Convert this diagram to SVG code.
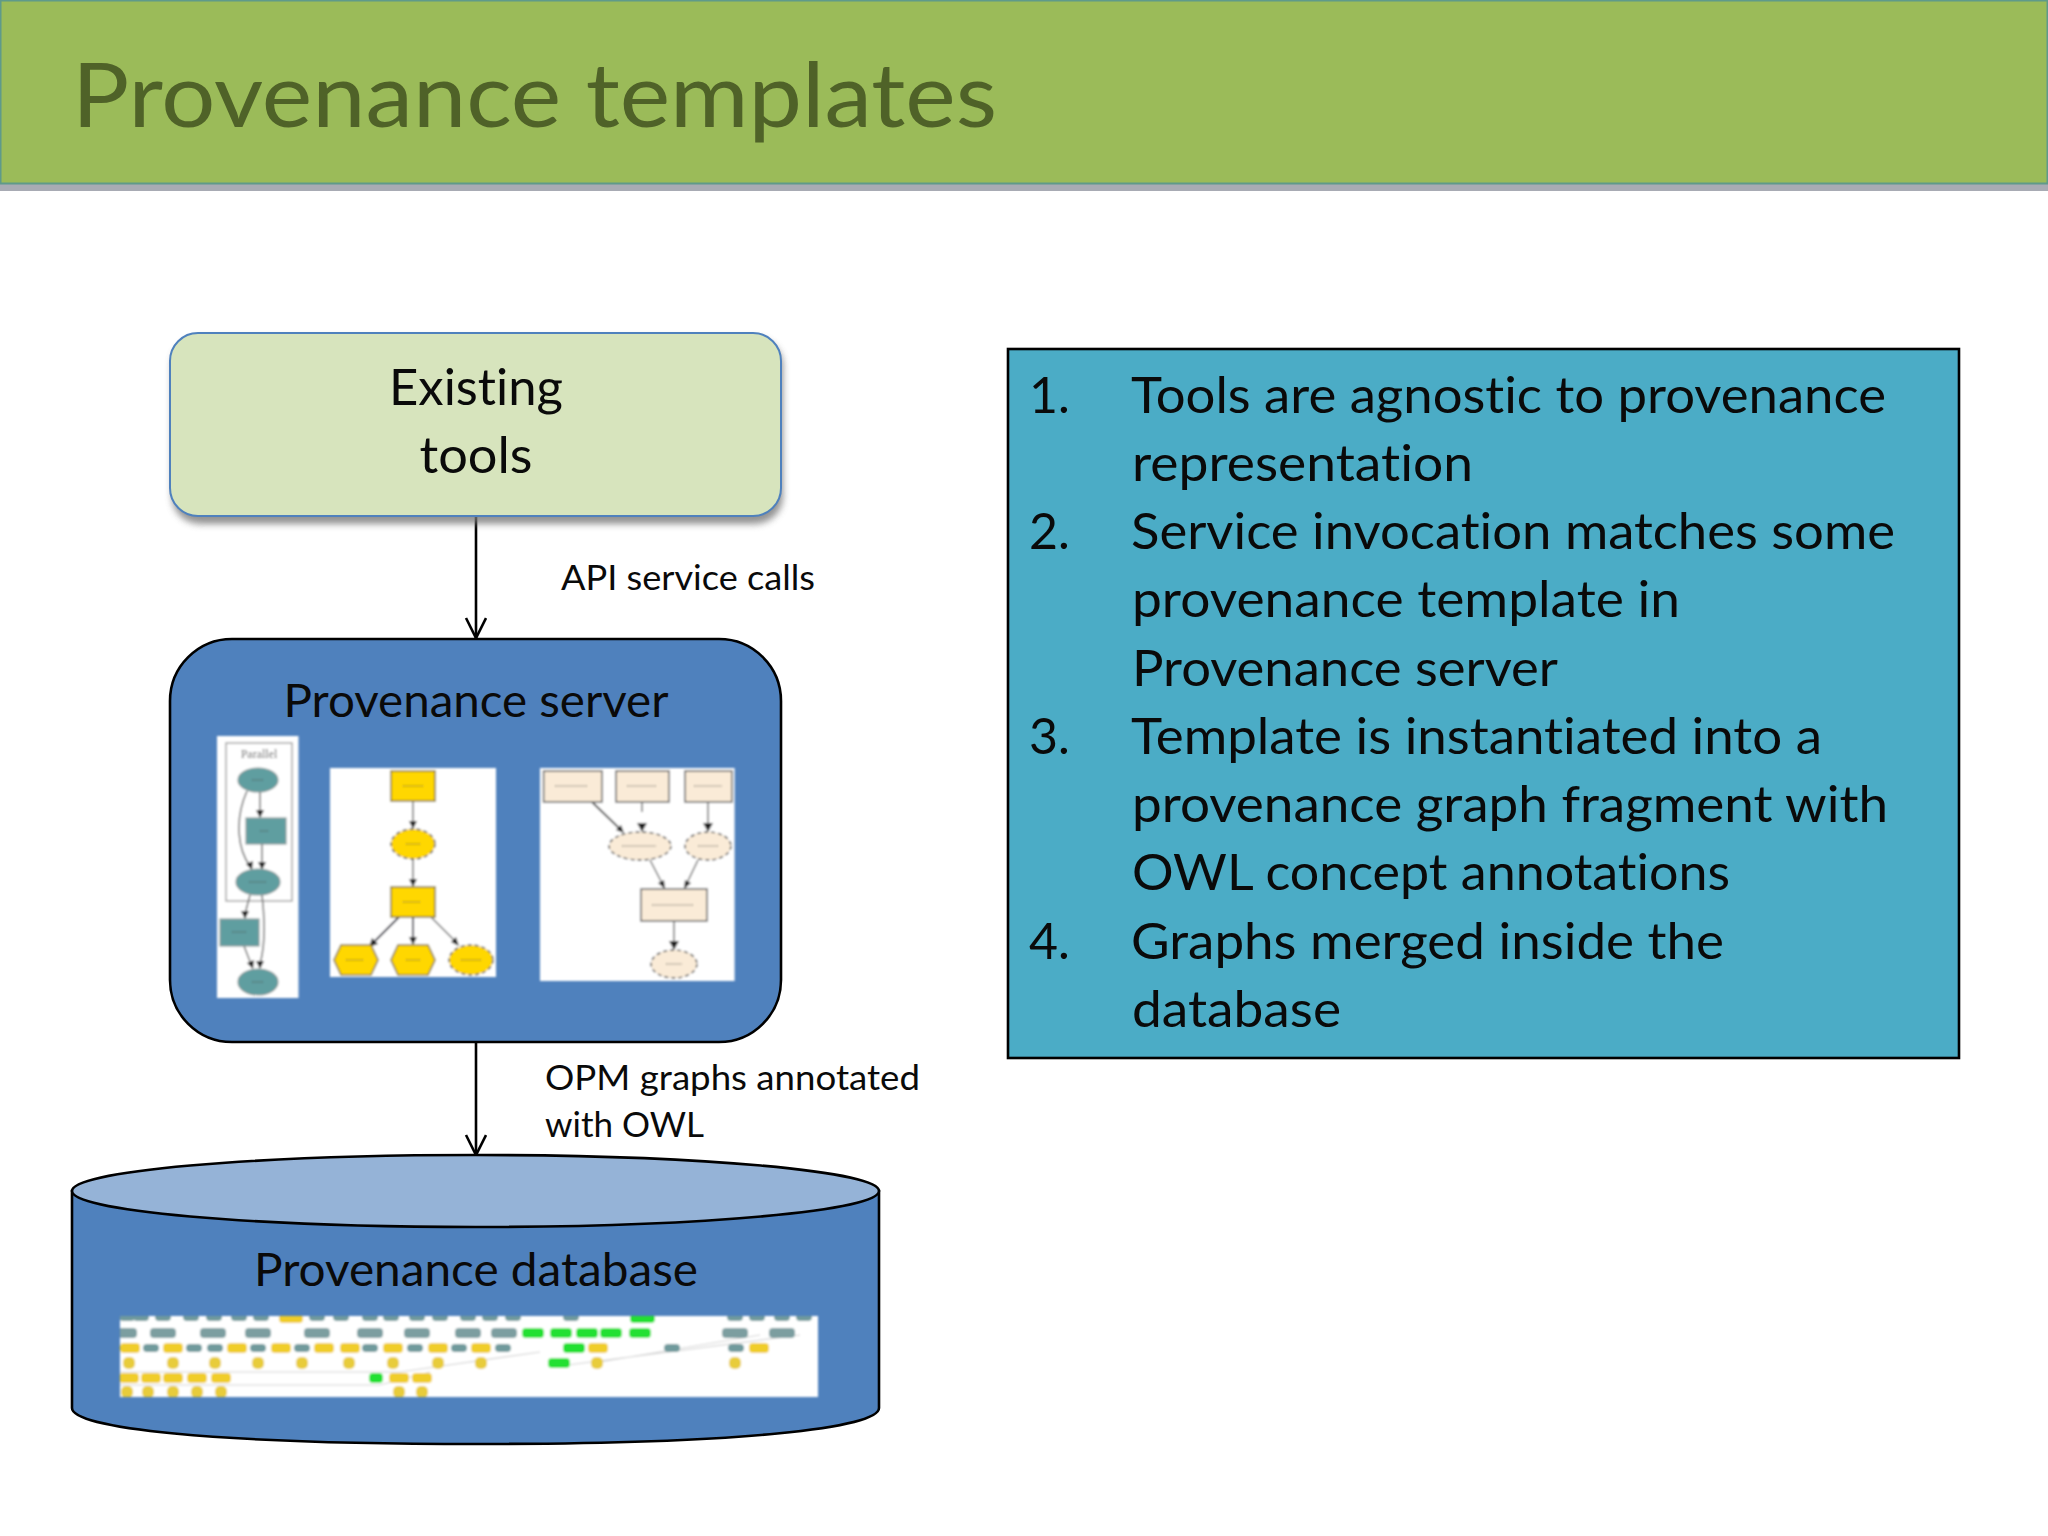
<svg xmlns="http://www.w3.org/2000/svg" width="2048" height="1536" viewBox="0 0 2048 1536">
<style>
text{font-family:"Lato","Carlito","Liberation Sans",sans-serif;fill:#0a0a0a;font-variant-ligatures:none}
.b{font-size:50px}
.l{font-size:35px}
.c{text-anchor:middle}
.ln{fill:none;stroke:#000;stroke-width:2.6}
.e{fill:none;stroke:#777;stroke-width:1.6}
.t{fill:#5F9EA0;stroke:#8a9a9a;stroke-width:1.2}
.g{fill:#FFD700;stroke:#8a7a30;stroke-width:1.6}
.a{fill:#FAEBD7;stroke:#777;stroke-width:1.8}
.ad{stroke:#444;stroke-dasharray:4 3;stroke-width:1.4}
.h{fill:#222}
.m{stroke:#444;stroke-width:1.2;stroke-dasharray:2 1;fill:none;opacity:.7}
.im{fill:#fff}
</style>
<defs>
<marker id="op" markerWidth="28" markerHeight="28" refX="21" refY="11" orient="auto" markerUnits="userSpaceOnUse"><path d="M1 1L21 11L1 21" fill="none" stroke="#000" stroke-width="2.6"/></marker>
<filter id="sh" x="-5%" y="-5%" width="110%" height="115%"><feGaussianBlur stdDeviation="3.5"/></filter>
<filter id="bl" x="-5%" y="-5%" width="110%" height="110%"><feGaussianBlur stdDeviation="0.8"/></filter>
<filter id="bl2" x="-5%" y="-5%" width="110%" height="110%"><feGaussianBlur stdDeviation="1.3"/></filter>
<rect id="dg" x="-8" y="-4" width="16" height="8" rx="4" fill="#6f9a9c"/>
<rect id="dw" x="-13" y="-5" width="26" height="10" rx="4" fill="#7c9ea0"/>
<rect id="dy" x="-10" y="-5" width="20" height="10" rx="4" fill="#f0cd2c"/>
<rect id="dn" x="-11" y="-5" width="22" height="10" rx="4" fill="#22e030"/>
<rect id="ds" x="-6" y="-6" width="12" height="12" rx="5" fill="#e8cc3a"/>
<clipPath id="dbc"><rect x="120" y="1316" width="698" height="81"/></clipPath>
</defs>

<g id="header">
<rect x="0" y="184" width="2048" height="7" fill="#a8abb4"/>
<rect x="0.5" y="0.5" width="2047" height="183" fill="#9BBB59" stroke="#5f9a8a" stroke-width="2"/>
<text x="72" y="127" style="font-size:90px;fill:#4F6228" textLength="925" lengthAdjust="spacingAndGlyphs">Provenance templates</text>
</g>

<g id="connectors">
<line class="ln" x1="476" y1="516" x2="476" y2="638" marker-end="url(#op)"/>
<line class="ln" x1="476" y1="1042" x2="476" y2="1155" marker-end="url(#op)"/>
<text class="l" x="561" y="590" textLength="254" lengthAdjust="spacingAndGlyphs">API service calls</text>
<text class="l" x="545" y="1090" textLength="375" lengthAdjust="spacingAndGlyphs">OPM graphs annotated</text>
<text class="l" x="545" y="1137" textLength="159" lengthAdjust="spacingAndGlyphs">with OWL</text>
</g>

<g id="existing-tools">
<rect x="172" y="338" width="611" height="186" rx="28" fill="#777" opacity="0.8" filter="url(#sh)"/>
<rect x="170" y="333" width="611" height="183" rx="28" fill="#D7E4BD" stroke="#4F81BD" stroke-width="2"/>
<text class="b c" x="476" y="405" textLength="174" lengthAdjust="spacingAndGlyphs">Existing</text>
<text class="b c" x="476" y="473" textLength="113" lengthAdjust="spacingAndGlyphs">tools</text>
</g>

<g id="provenance-server">
<rect x="170" y="639" width="611" height="403" rx="62" fill="#4F81BD" stroke="#000" stroke-width="2.6"/>
<text class="c" x="476" y="717" textLength="385" lengthAdjust="spacingAndGlyphs" style="font-size:46px">Provenance server</text>
<g id="template-a" filter="url(#bl)">
<rect class="im" x="217" y="736" width="81.500" height="262"/>
<rect x="226" y="743" width="66" height="158" fill="none" stroke="#aaa" stroke-width="1.600"/>
<text class="c" x="259" y="758" style="font-size:12px;fill:#666;font-family:'Liberation Serif',serif">Parallel</text>
<path class="e" d="M247 791C234 820 238 850 250 866M260 792V812M262 844V864M250 895L245 914M262 895C266 930 264 950 260 964M244 946L251 964"/>
<path class="h" d="M260 818l-4 -8h8zM262 870l-4 -8h8zM252 870l-6 -6 7 -3zM245 919l-4 -8h8zM260 969l-4 -8h8zM253 969l-6 -6 7 -3z"/>
<ellipse class="t" cx="258" cy="780" rx="20" ry="12"/>
<rect class="t" x="246" y="818" width="40" height="26"/>
<ellipse class="t" cx="258" cy="882" rx="22" ry="13"/>
<rect class="t" x="220" y="919" width="39" height="27"/>
<ellipse class="t" cx="258" cy="982" rx="20" ry="13"/>
<path class="m" d="M252 780h12M260 831h8M249 882h18M232 932h14M252 982h12"/>
</g>
<g id="template-b" filter="url(#bl)">
<rect class="im" x="330" y="768" width="166" height="209"/>
<path class="e" d="M413 801V823M413 859V881M431 917L455 941"/>
<path d="M399 917L372 944M413 917V940" fill="none" stroke="#334" stroke-width="1.800"/>
<path class="h" d="M413 829l-4 -8h8zM413 887l-4 -8h8zM369 947l3 -9 6 6zM413 945l-4 -8h8zM459 946l-8 -4 5 -5z"/>
<rect class="g" x="391" y="771" width="44" height="30"/>
<ellipse class="g ad" cx="413" cy="844" rx="22" ry="15"/>
<rect class="g" x="391" y="887" width="44" height="30"/>
<path class="g" d="M341 945H371L378 960L371 975H341L334 960Z"/>
<path class="g" d="M398 945H428L435 960L428 975H398L391 960Z"/>
<ellipse class="g ad" cx="471" cy="960" rx="22" ry="15"/>
<path class="m" d="M403 786h20M406 844h14M403 902h18M346 960h18M406 960h14M461 960h20"/>
</g>
<g id="template-c" filter="url(#bl)">
<rect class="im" x="540" y="768" width="194.600" height="213"/>
<path d="M592 802L620 829" fill="none" stroke="#444" stroke-width="1.800"/>
<path class="e" d="M642 802V812M708 802V826M650 860L663 885M698 860L686 885M674 921V944"/>
<path class="h" d="M624 833l-8 -3 5 -5zM642 832l-5 -9h10zM708 832l-5 -9h10zM665 889l-7 -6 6 -3zM684 889l1 -9 6 3zM674 950l-5 -9h10z"/>
<rect class="a" x="543.600" y="771" width="58.400" height="31"/>
<rect class="a" x="616" y="771" width="53" height="31"/>
<rect class="a" x="685" y="771" width="47" height="31"/>
<ellipse class="a ad" cx="640" cy="846" rx="31" ry="14"/>
<ellipse class="a ad" cx="708" cy="846" rx="23" ry="14"/>
<rect class="a" x="641" y="889" width="66" height="32"/>
<ellipse class="a ad" cx="674" cy="964" rx="23" ry="14"/>
<path class="m" d="M555 786h32M627 786h30M694 786h28M622 846h34M698 846h20M652 905h42M666 964h16"/>
</g>
</g>

<g id="provenance-database">
<path d="M72 1191V1408C72 1428 210 1444 476 1444S879 1428 879 1408V1191Z" fill="#4F81BD" stroke="#000" stroke-width="2.6"/>
<ellipse cx="475.500" cy="1191" rx="403.500" ry="36" fill="#95B3D7" stroke="#000" stroke-width="2.6"/>
<text class="c" x="476" y="1286" textLength="444" lengthAdjust="spacingAndGlyphs" style="font-size:46px">Provenance database</text>
<g id="database-graph" filter="url(#bl2)">
<rect class="im" x="120" y="1316" width="698" height="81"/>
<path d="M120 1372H400L540 1352M120 1385H380L430 1372M560 1366L800 1335M600 1362L760 1335" fill="none" stroke="#d6d6d6" stroke-width="1.200"/>
<g clip-path="url(#dbc)">
<use href="#dg" x="127" y="1317"/><use href="#dg" x="141" y="1317"/><use href="#dg" x="163" y="1317"/><use href="#dg" x="191" y="1317"/><use href="#dg" x="214" y="1317"/><use href="#dg" x="239" y="1317"/><use href="#dg" x="261" y="1317"/>
<rect x="279" y="1314" width="24" height="9" rx="4" fill="#f0cd2c"/>
<use href="#dg" x="317" y="1317"/><use href="#dg" x="341" y="1317"/><use href="#dg" x="370" y="1317"/><use href="#dg" x="391" y="1317"/><use href="#dg" x="417" y="1317"/><use href="#dg" x="440" y="1317"/><use href="#dg" x="468" y="1317"/><use href="#dg" x="490" y="1317"/><use href="#dg" x="513" y="1317"/><use href="#dg" x="571" y="1317"/>
<rect x="630" y="1314" width="25" height="9" rx="4" fill="#22e030"/>
<use href="#dg" x="735" y="1317"/><use href="#dg" x="757" y="1317"/><use href="#dg" x="782" y="1317"/><use href="#dg" x="804" y="1317"/>
<use href="#dw" x="124" y="1333"/><use href="#dw" x="163" y="1333"/><use href="#dw" x="213" y="1333"/><use href="#dw" x="258" y="1333"/><use href="#dw" x="317" y="1333"/><use href="#dw" x="370" y="1333"/><use href="#dw" x="417" y="1333"/><use href="#dw" x="468" y="1333"/><use href="#dw" x="504" y="1333"/>
<use href="#dn" x="533" y="1333"/><use href="#dn" x="561" y="1333"/><use href="#dn" x="587" y="1333"/><use href="#dn" x="611" y="1333"/><use href="#dn" x="640" y="1333"/>
<use href="#dw" x="735" y="1333"/><use href="#dw" x="782" y="1333"/>
<use href="#dy" x="130" y="1348"/><use href="#dy" x="173" y="1348"/><use href="#dy" x="237" y="1348"/><use href="#dy" x="281" y="1348"/><use href="#dy" x="324" y="1348"/><use href="#dy" x="350" y="1348"/><use href="#dy" x="393" y="1348"/><use href="#dy" x="438" y="1348"/><use href="#dy" x="481" y="1348"/><use href="#dy" x="598" y="1348"/><use href="#dy" x="759" y="1348"/>
<use href="#dg" x="151" y="1348"/><use href="#dg" x="194" y="1348"/><use href="#dg" x="215" y="1348"/><use href="#dg" x="258" y="1348"/><use href="#dg" x="302" y="1348"/><use href="#dg" x="370" y="1348"/><use href="#dg" x="415" y="1348"/><use href="#dg" x="459" y="1348"/><use href="#dg" x="503" y="1348"/><use href="#dg" x="672" y="1348"/><use href="#dg" x="736" y="1348"/>
<use href="#dn" x="574" y="1348"/>
<use href="#ds" x="129" y="1363"/><use href="#ds" x="173" y="1363"/><use href="#ds" x="215" y="1363"/><use href="#ds" x="258" y="1363"/><use href="#ds" x="302" y="1363"/><use href="#ds" x="349" y="1363"/><use href="#ds" x="393" y="1363"/><use href="#ds" x="438" y="1363"/><use href="#ds" x="481" y="1363"/><use href="#ds" x="597" y="1363"/><use href="#ds" x="735" y="1363"/>
<use href="#dn" x="559" y="1363"/>
<use href="#dy" x="129" y="1378"/><use href="#dy" x="151" y="1378"/><use href="#dy" x="173" y="1378"/><use href="#dy" x="197" y="1378"/><use href="#dy" x="221" y="1378"/><use href="#dy" x="399" y="1378"/><use href="#dy" x="422" y="1378"/>
<rect x="369" y="1373" width="14" height="10" rx="4" fill="#22e030"/>
<use href="#ds" x="127" y="1392"/><use href="#ds" x="148" y="1392"/><use href="#ds" x="173" y="1392"/><use href="#ds" x="197" y="1392"/><use href="#ds" x="221" y="1392"/><use href="#ds" x="399" y="1392"/><use href="#ds" x="422" y="1392"/>
</g>
</g>
</g>

<g id="steps">
<rect x="1008" y="349" width="951" height="709" fill="#4BACC6" stroke="#000" stroke-width="2.6"/>
<text class="b" x="1029" y="413">1.</text>
<text class="b" x="1131" y="413" textLength="755" lengthAdjust="spacingAndGlyphs">Tools are agnostic to provenance</text>
<text class="b" x="1132" y="481" textLength="341" lengthAdjust="spacingAndGlyphs">representation</text>
<text class="b" x="1029" y="549">2.</text>
<text class="b" x="1131" y="549" textLength="764" lengthAdjust="spacingAndGlyphs">Service invocation matches some</text>
<text class="b" x="1132" y="617" textLength="548" lengthAdjust="spacingAndGlyphs">provenance template in</text>
<text class="b" x="1132" y="686" textLength="426" lengthAdjust="spacingAndGlyphs">Provenance server</text>
<text class="b" x="1029" y="754">3.</text>
<text class="b" x="1131" y="754" textLength="691" lengthAdjust="spacingAndGlyphs">Template is instantiated into a</text>
<text class="b" x="1132" y="822" textLength="756" lengthAdjust="spacingAndGlyphs">provenance graph fragment with</text>
<text class="b" x="1132" y="890" textLength="598" lengthAdjust="spacingAndGlyphs">OWL concept annotations</text>
<text class="b" x="1029" y="959">4.</text>
<text class="b" x="1131" y="959" textLength="593" lengthAdjust="spacingAndGlyphs">Graphs merged inside the</text>
<text class="b" x="1132" y="1027" textLength="209" lengthAdjust="spacingAndGlyphs">database</text>
</g>
</svg>
